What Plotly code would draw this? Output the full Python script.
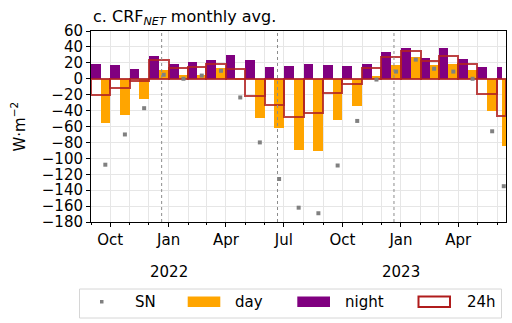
import pandas as pd
import plotly.graph_objects as go

# Monthly cloud radiative forcing (CRF_NET), W m-2
months = ["2021-09", "2021-10", "2021-11", "2021-12", "2022-01", "2022-02",
          "2022-03", "2022-04", "2022-05", "2022-06", "2022-07", "2022-08",
          "2022-09", "2022-10", "2022-11", "2022-12", "2023-01", "2023-02",
          "2023-03", "2023-04", "2023-05", "2023-06"]
record_end = "2023-06-15"

night = [18, 17, 12, 28.5, 19, 21, 24, 30, 23.5, 15, 16, 18.5,
         17, 16, 19, 33, 38.6, 26, 38.6, 25, 15, 15]
day = [-55, -46, -25, 11, 4.6, 5, 13, -2, -49.5, -62.5, -89, -90.5,
       -52, -34, 4, 17, 27.7, 16.8, 19, 10.5, -40, -85]
full_day = [-20.5, -11, -3, 23, 14, 15, 19, 12.5, -22, -33.5, -47.5, -43,
            -18.5, -7, 13.4, 27.7, 35, 22.6, 29, 18, -19, -47]
sn = [-108, -70, -37, 5, 0, 4, 10, -23.5, -80, -126, -162, -169,
      -109, -53, -1, 9, 24, 12.6, 9, 0, -66, -135]

solstices = ["2021-12-21", "2022-06-21", "2022-12-21"]
year_labels = ["2022", "2023"]

# Period boundaries: each month, the last one truncated at the end of the record
starts = pd.to_datetime([m + "-01" for m in months])
ends = list(starts[1:]) + [pd.Timestamp(record_end)]
starts = list(starts)
ms = lambda td: td / pd.Timedelta(milliseconds=1)

night_x, day_x, full_x = [], [], []
half_w, full_w = [], []
for s, e in zip(starts, ends):
    span = e - s
    night_x.append(s + span / 4)
    day_x.append(s + 3 * span / 4)
    full_x.append(s + span / 2)
    half_w.append(ms(span / 2))
    full_w.append(ms(span))

FONT = "DejaVu Sans"
ORANGE = "#ffa500"
PURPLE = "#800080"
RED = "rgba(178,34,34,0.85)"
GREY = "#808080"

fig = go.Figure()
fig.add_trace(go.Bar(x=night_x, y=night, width=half_w, name="night",
                     marker=dict(color=PURPLE, line=dict(width=0))))
fig.add_trace(go.Bar(x=day_x, y=day, width=half_w, name="day",
                     marker=dict(color=ORANGE, line=dict(width=0))))
fig.add_trace(go.Bar(x=full_x, y=full_day, width=full_w, name="24h",
                     marker=dict(color="rgba(0,0,0,0)",
                                 line=dict(color=RED, width=2))))
fig.add_trace(go.Scatter(x=day_x, y=sn, mode="markers", name="SN",
                         marker=dict(symbol="square", size=4, color=GREY)))

# Plot area geometry in pixels
L, R, T, B = 91, 506, 31, 222
W, H = R - L, B - T
px = lambda x: (x - L) / W
py = lambda y: (B - y) / H

shapes = []
for d in solstices:
    shapes.append(dict(type="line", xref="x", yref="paper", x0=d, x1=d,
                       y0=0, y1=1, layer="above",
                       line=dict(color="#8c8c8c", width=1, dash="dot")))

annotations = []
for yr in year_labels:
    annotations.append(dict(x=f"{yr}-01-01", y=py(271.5), xref="x", yref="paper",
                            text=yr, showarrow=False, xanchor="center",
                            yanchor="middle", font=dict(size=15, family=FONT)))

annotations.append(dict(x=px(18), y=py(126.5), xref="paper", yref="paper",
                        text="W·m<sup>−2</sup>", textangle=-90, showarrow=False,
                        xanchor="center", yanchor="middle",
                        font=dict(size=15, family=FONT)))
annotations.append(dict(x=px(91), y=py(17), xref="paper", yref="paper",
                        text="c. CRF<sub><i>NET</i></sub> monthly avg.",
                        showarrow=False, xanchor="left", yanchor="middle",
                        font=dict(size=16, family=FONT)))

# Legend drawn as a framed row of handles and labels
shapes.append(dict(type="rect", xref="paper", yref="paper",
                   x0=px(79.5), x1=px(501.5), y0=py(289), y1=py(318),
                   line=dict(color="#d6d6d6", width=1), fillcolor="white",
                   layer="above"))
shapes.append(dict(type="rect", xref="paper", yref="paper",
                   x0=px(100), x1=px(103.5), y0=py(300), y1=py(303.5),
                   line=dict(width=0), fillcolor=GREY, layer="above"))
handles = [(187.7, 220.3, ORANGE, None), (297.3, 330, PURPLE, None),
           (418.5, 450, "rgba(0,0,0,0)", "#b01c1c")]
for x0, x1, fill, edge in handles:
    shapes.append(dict(type="rect", xref="paper", yref="paper",
                       x0=px(x0), x1=px(x1), y0=py(296.5), y1=py(307),
                       fillcolor=fill, layer="above",
                       line=dict(color=edge or fill, width=2 if edge else 0)))
for label, x in [("SN", 132.7), ("day", 233.3), ("night", 343.3), ("24h", 465)]:
    annotations.append(dict(x=px(x), y=py(302), xref="paper", yref="paper",
                            text=label, showarrow=False, xanchor="left",
                            yanchor="middle", font=dict(size=15, family=FONT)))

fig.update_layout(
    width=512, height=323,
    margin=dict(l=L, r=512 - R, t=T, b=323 - B),
    paper_bgcolor="white", plot_bgcolor="white",
    barmode="overlay", bargap=0, showlegend=False,
    font=dict(family=FONT, size=15, color="black"),
    shapes=shapes, annotations=annotations,
)
fig.update_xaxes(
    type="date", range=["2021-09-01", record_end],
    tick0="2021-10-01", dtick="M3", tickformat="%b",
    ticks="outside", ticklen=4, tickcolor="black",
    showline=True, linecolor="black", linewidth=1, mirror=True,
    showgrid=True, gridcolor="#e6e6e6", gridwidth=1,
    minor=dict(dtick="M1", tick0="2021-09-01", ticks="outside", ticklen=2,
               tickcolor="black", showgrid=True, gridcolor="#e6e6e6"),
    tickfont=dict(size=15, family=FONT),
)
fig.update_yaxes(
    range=[-180, 60], dtick=20, tick0=0,
    ticks="outside", ticklen=4, tickcolor="black",
    showline=True, linecolor="black", linewidth=1, mirror=True,
    showgrid=True, gridcolor="#e6e6e6", gridwidth=1, zeroline=False,
    tickfont=dict(size=15, family=FONT),
)

fig.write_html("out.html")
